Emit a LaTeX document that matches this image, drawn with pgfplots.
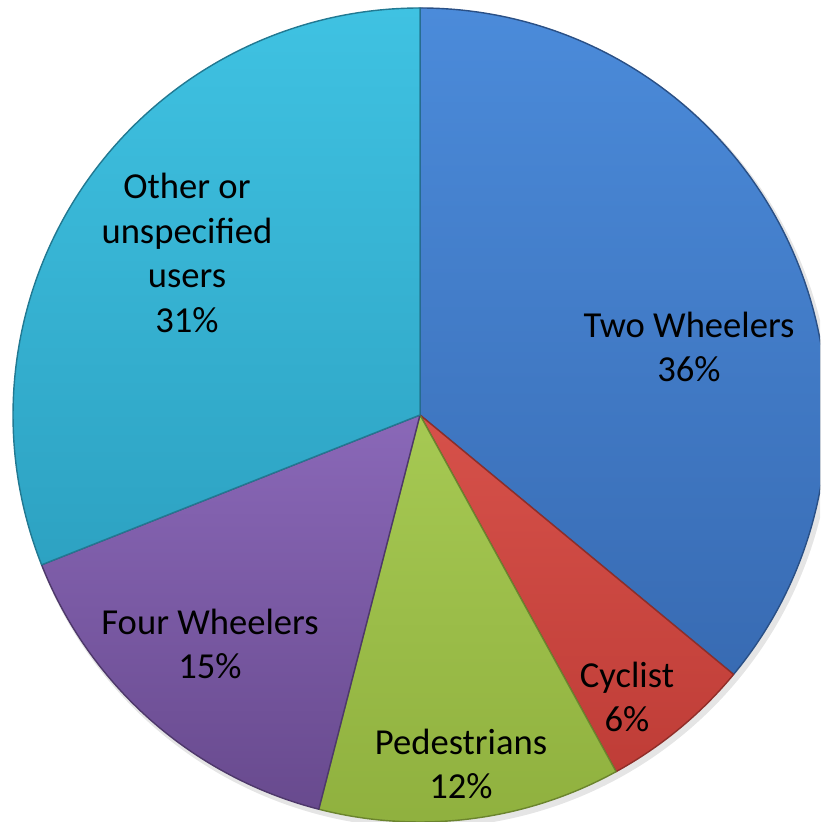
\documentclass[border=0pt]{standalone}
\usepackage{fontspec}
\setmainfont{Carlito}
\usepackage{pgfplots}
\usepackage{pgfplotstable}
\pgfplotsset{compat=1.18}

\definecolor{cT0}{HTML}{4B8BDA}\definecolor{cB0}{HTML}{386BB3}
\definecolor{cT1}{HTML}{D6514A}\definecolor{cB1}{HTML}{BF3D37}
\definecolor{cT2}{HTML}{A6C953}\definecolor{cB2}{HTML}{8FB03E}
\definecolor{cT3}{HTML}{8A68B8}\definecolor{cB3}{HTML}{684A8E}
\definecolor{cT4}{HTML}{3FC2E2}\definecolor{cB4}{HTML}{2DA2C2}

% share of each road-user group (percent), clockwise from 12 o'clock
\pgfplotstableread[col sep=comma]{
label,pct,lx,ly
Two Wheelers,36,689,-347
Cyclist,6,627,-697
Pedestrians,12,461,-764
Four Wheelers,15,210,-644
Other or unspecified users,31,187,-253
}\piedata

\begin{document}
\begin{tikzpicture}
% angles from the table
\xdef\curang{90}
\foreach \i in {0,...,4}{%
  \pgfplotstablegetelem{\i}{pct}\of\piedata
  \pgfmathsetmacro\nextang{\curang-3.6*\pgfplotsretval}%
  \expandafter\xdef\csname angS\i\endcsname{\curang}%
  \expandafter\xdef\csname angE\i\endcsname{\nextang}%
  \xdef\curang{\nextang}%
}
\begin{axis}[
  x=0.5pt, y=0.5pt,
  xmin=0, xmax=820, ymin=-822, ymax=0,
  hide axis, clip=true,
]
% soft shadow
\fill[black!10] (axis cs:423,-419) circle[radius=204.5pt];
\pgfplotsinvokeforeach{0,...,4}{
  \fill[top color=cT#1, bottom color=cB#1]
    (axis cs:420,-415) -- ++(\csname angS#1\endcsname:203.5pt)
    arc[start angle=\csname angS#1\endcsname, end angle=\csname angE#1\endcsname, radius=203.5pt] -- cycle;
  \draw[cB#1!75!black, line width=0.7pt, line join=round]
    (axis cs:420,-415) -- ++(\csname angS#1\endcsname:203.5pt)
    arc[start angle=\csname angS#1\endcsname, end angle=\csname angE#1\endcsname, radius=203.5pt] -- cycle;
}
\begin{scope}[every node/.style={font=\fontsize{18.3}{22.3}\selectfont, align=center, text=black, inner sep=0pt}]
\node at (axis cs:689,-347) {Two Wheelers\\36\%};
\node at (axis cs:627,-697) {Cyclist\\6\%};
\node at (axis cs:461,-764) {Pedestrians\\12\%};
\node at (axis cs:210,-644) {Four Wheelers\\15\%};
\node at (axis cs:187,-253) {Other or\\unspecified\\users\\31\%};
\end{scope}
\end{axis}
\pgfresetboundingbox
\path (current axis.south west) rectangle (current axis.north east);
\end{tikzpicture}
\end{document}
